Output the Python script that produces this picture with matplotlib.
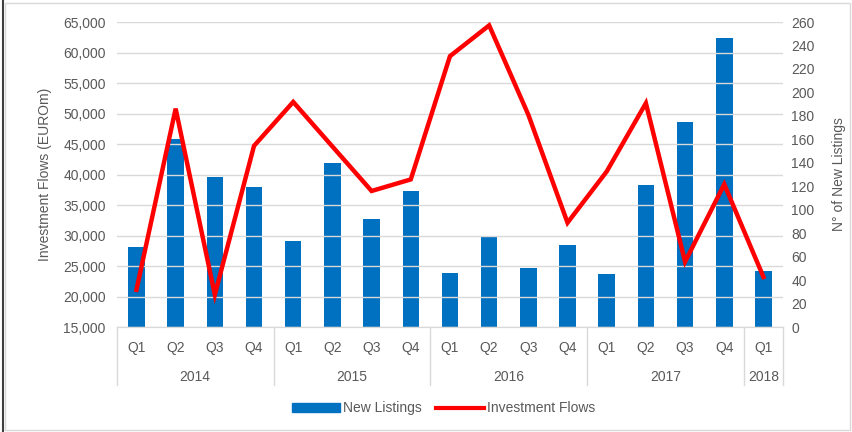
import matplotlib.pyplot as plt
from matplotlib.patches import Rectangle
from matplotlib.lines import Line2D
from matplotlib.ticker import FuncFormatter
import matplotlib.transforms as mtransforms

quarters = ['Q1', 'Q2', 'Q3', 'Q4'] * 4 + ['Q1']
years = ['2014', '2015', '2016', '2017', '2018']
year_sizes = [4, 4, 4, 4, 1]

# N° of new listings (right axis, bars)
new_listings = [68, 160, 128, 119, 73, 140, 92, 116, 46, 78, 50, 70, 45, 121, 175, 246, 48]
# investment flows EUROm (left axis, line)
inv_flows = [21100, 50800, 20300, 44700, 51900, 44600, 37300, 39200,
             59400, 64450, 49800, 32100, 40500, 51700, 25700, 38400, 23200]

grey = '#595959'
fs = 10
plt.rcParams['font.family'] = ['Liberation Sans', 'DejaVu Sans']
plt.rcParams['font.size'] = fs

fig = plt.figure(figsize=(8.53, 4.32), dpi=100)
ax = fig.add_axes([0.137, 0.243, 0.781, 0.706])
ax2 = ax.twinx()

x = list(range(len(quarters)))

ax2.bar(x, new_listings, width=0.42, color='#0070C0', zorder=2)
ax2.set_ylim(0, 260)
ax2.set_yticks(range(0, 261, 20))

ax.plot(x, inv_flows, color='#FF0000', lw=3.2, zorder=5, solid_joinstyle='miter')
ax.set_ylim(15000, 65000)
ax.set_yticks(range(15000, 65001, 5000))
ax.yaxis.set_major_formatter(FuncFormatter(lambda v, p: f'{int(v):,}'))
ax.set_xlim(-0.5, len(quarters) - 0.5)
ax.set_xticks([])

# line on top of bars
ax.set_zorder(ax2.get_zorder() + 1)
ax.patch.set_visible(False)

ax.grid(axis='y', color='#D9D9D9', lw=1)
ax.set_axisbelow(True)
ax2.grid(False)

for a in (ax, ax2):
    for s in ['top', 'left', 'right']:
        a.spines[s].set_visible(False)
    a.spines['bottom'].set_color('#D9D9D9')
    a.tick_params(length=0, colors=grey, labelsize=fs)

ax.tick_params(axis='y', pad=8)
ax2.tick_params(axis='y', pad=6)
ax.set_ylabel('Investment Flows (EUROm)', color=grey, fontsize=fs, labelpad=8)
ax2.set_ylabel('N° of New Listings', color=grey, fontsize=fs, labelpad=12)

# two level category axis
trans = mtransforms.blended_transform_factory(ax.transData, ax.transAxes)
for i, q in enumerate(quarters):
    ax.text(i, -0.07, q, transform=trans, ha='center', va='center', color=grey)
start = 0
bounds = [-0.5]
for yr, n in zip(years, year_sizes):
    ax.text(start + (n - 1) / 2, -0.165, yr, transform=trans, ha='center', va='center', color=grey)
    start += n
    bounds.append(start - 0.5)
for b in bounds:
    ax.plot([b, b], [0, -0.19], transform=trans, color='#D9D9D9', lw=1, clip_on=False)

handles = [Rectangle((0, 0), 1, 1, color='#0070C0'), Line2D([], [], color='#FF0000', lw=3)]
fig.legend(handles, ['New Listings', 'Investment Flows'], loc='center', bbox_to_anchor=(0.52, 0.055),
           ncol=2, frameon=False, handlelength=3.5, handleheight=0.6, columnspacing=1.0,
           handletextpad=0.2, labelcolor=grey, fontsize=fs)

# chart frame
fig.add_artist(Rectangle((0.006, 0.004), 0.99, 0.99, transform=fig.transFigure, fill=False,
                         edgecolor='#D9D9D9', lw=1))
fig.add_artist(Line2D([0.003, 0.003], [0, 1], transform=fig.transFigure, color='#404040', lw=1.5))

fig.savefig('out.png', dpi=100)
